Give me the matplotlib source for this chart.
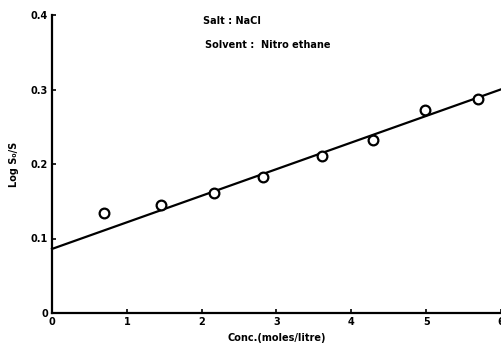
import matplotlib
matplotlib.use("Agg")
import matplotlib.pyplot as plt
import numpy as np

# Measured data: NaCl in nitroethane
conc = [0.70, 1.45, 2.16, 2.82, 3.61, 4.29, 4.99, 5.69]
log_ratio = [0.134, 0.145, 0.161, 0.182, 0.211, 0.232, 0.272, 0.287]

# Fitted straight line (intercept, slope)
fit_intercept = 0.086
fit_slope = 0.0357

x_ticks = [0, 1, 2, 3, 4, 5, 6]
x_tick_labels = ["0", "1", "2", "3", "4", "5", "6"]
y_ticks = [0, 0.1, 0.2, 0.3, 0.4]
y_tick_labels = ["0", "0.1", "0.2", "0.3", "0.4"]

plt.rcParams["font.family"] = ["DejaVu Sans"]

fig = plt.figure(figsize=(5.02, 3.47), dpi=100)
ax = fig.add_axes([52 / 502, (347 - 313) / 347, (501 - 52) / 502, (313 - 15) / 347])

xs = np.array([0, 6])
ax.plot(xs, fit_intercept + fit_slope * xs, color="black", lw=1.6, clip_on=False)
ax.plot(conc, log_ratio, linestyle="none", marker="o", ms=7,
        mfc="white", mec="black", mew=1.6)

ax.set_xlim(0, 6)
ax.set_ylim(0, 0.4)
for side in ("top", "right"):
    ax.spines[side].set_visible(False)
for side in ("left", "bottom"):
    ax.spines[side].set_linewidth(1.6)

ax.set_xticks(x_ticks)
ax.set_xticklabels(x_tick_labels)
ax.set_yticks(y_ticks)
ax.set_yticklabels(y_tick_labels)
ax.tick_params(direction="in", length=3, width=1.2, labelsize=7, pad=3)
for lab in ax.get_xticklabels() + ax.get_yticklabels():
    lab.set_fontweight("bold")

ax.set_xlabel("Conc.(moles/litre)", fontsize=7, fontweight="bold", labelpad=4)
ax.set_ylabel("Log S\u2080/S", fontsize=7, fontweight="bold", labelpad=8)

fig.text(203 / 502, 1 - 21 / 347, "Salt : NaCl", fontsize=7, fontweight="bold",
         va="center", ha="left")
fig.text(205 / 502, 1 - 45 / 347, "Solvent :  Nitro ethane", fontsize=7,
         fontweight="bold", va="center", ha="left")

fig.savefig("out.png", dpi=100)
